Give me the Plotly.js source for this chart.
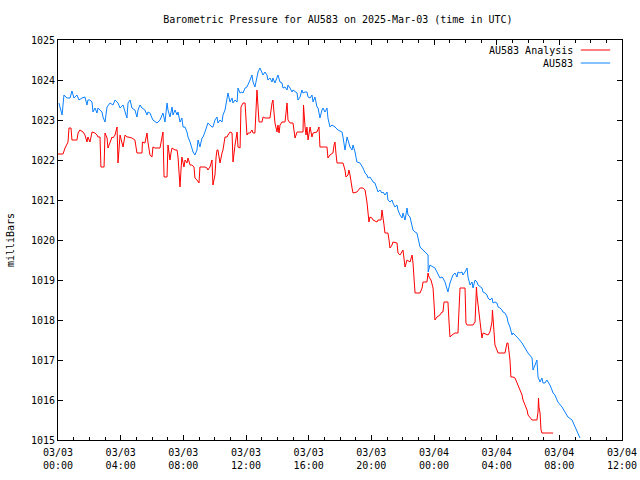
<!DOCTYPE html>
<html>
<head>
<meta charset="utf-8">
<script src="https://cdn.plot.ly/plotly-3.0.1.min.js"></script>
<style>html,body{margin:0;padding:0;background:#fff}#chart{width:640px;height:480px}</style>
</head>
<body>
<div id="chart"></div>
<script>
// Hours since 2025-03-03 00:00 UTC, and pressure in millibars
const blueHours = [0.06,0.26,0.38,0.57,0.77,0.89,1.02,1.21,1.34,1.53,1.72,1.85,1.91,2.04,2.17,2.23,2.36,2.49,2.55,2.81,2.87,3.00,3.13,3.32,3.51,3.64,3.83,3.96,4.15,4.28,4.40,4.47,4.60,4.72,4.91,5.04,5.11,5.23,5.36,5.55,5.68,5.74,5.87,6.00,6.06,6.32,6.51,6.70,6.83,6.96,7.02,7.15,7.28,7.34,7.47,7.60,7.66,7.79,7.91,7.98,8.11,8.23,8.30,8.43,8.55,8.62,8.74,8.87,8.94,9.06,9.19,9.26,9.38,9.51,9.57,9.83,9.89,10.02,10.15,10.21,10.34,10.47,10.53,10.66,10.79,10.85,10.98,11.11,11.17,11.30,11.43,11.49,11.62,11.74,11.81,11.94,12.06,12.13,12.26,12.38,12.45,12.57,12.70,12.77,12.89,13.02,13.09,13.21,13.34,13.40,13.53,13.66,13.72,13.85,13.98,14.04,14.17,14.30,14.36,14.49,14.62,14.68,14.81,14.94,15.00,15.13,15.26,15.32,15.45,15.57,15.64,15.77,15.89,15.96,16.09,16.21,16.28,16.40,16.53,16.60,16.72,16.85,16.91,17.04,17.17,17.23,17.36,17.49,17.68,17.87,18.13,18.19,18.32,18.45,18.51,18.64,18.77,18.83,18.96,19.08,19.28,19.47,19.60,19.72,19.79,19.91,20.04,20.11,20.23,20.36,20.43,20.55,20.68,20.74,20.87,21.00,21.06,21.19,21.32,21.38,21.51,21.64,21.70,21.83,21.96,22.02,22.15,22.28,22.34,22.47,22.60,22.66,22.79,22.91,22.98,23.11,23.30,23.62,23.63,23.74,23.94,24.06,24.19,24.26,24.38,24.51,24.57,24.70,24.83,24.89,25.02,25.15,25.21,25.34,25.47,25.53,25.66,25.79,25.85,25.98,26.11,26.17,26.30,26.43,26.49,26.62,26.74,26.81,26.94,27.06,27.13,27.26,27.38,27.45,27.57,27.70,27.77,27.89,28.02,28.09,28.21,28.34,28.40,28.53,28.66,28.72,28.85,28.98,29.04,29.17,29.36,29.62,29.81,30.00,30.26,30.32,30.45,30.57,30.64,30.77,30.89,30.96,31.08,31.21,31.28,31.40,31.53,31.60,31.72,31.91,32.17,32.36,32.55,32.81,33.00,33.19,33.32];
const bluePressure = [1023.425,1023.125,1023.625,1023.55,1023.55,1023.725,1023.55,1023.625,1023.5,1023.55,1023.575,1023.375,1023.5,1023.5,1023.45,1023.2,1023.3,1023.175,1023.3,1023.2,1023.075,1022.95,1023.325,1023.425,1023.375,1023.5,1023.425,1023.3,1023.375,1023.175,1023.05,1023.425,1023.5,1023.3,1023.25,1023.075,1023.25,1023.375,1023.3,1023.25,1023.125,1023.2,1023.175,1023.05,1023.0,1022.925,1023.0,1023.175,1022.95,1023.425,1023.25,1023.075,1023.325,1023.125,1023.25,1023.125,1023.2,1022.95,1023.05,1022.825,1022.825,1022.7,1022.575,1022.45,1022.3,1022.2,1022.125,1022.25,1022.5,1022.325,1022.55,1022.575,1022.7,1022.825,1022.925,1022.825,1022.825,1023.0,1023.075,1022.925,1023.0,1022.95,1023.125,1023.25,1023.5,1023.675,1023.45,1023.55,1023.425,1023.5,1023.45,1023.8,1023.675,1023.7,1023.675,1023.8,1023.825,1023.875,1024.0,1024.125,1023.95,1023.825,1024.125,1024.2,1024.3,1024.2,1024.125,1024.2,1024.125,1024.0,1024.05,1023.95,1024.05,1023.925,1024.075,1024.125,1023.95,1023.925,1023.8,1023.825,1023.75,1023.875,1023.8,1023.7,1023.75,1023.7,1023.675,1023.5,1023.575,1023.75,1023.675,1023.7,1023.7,1023.575,1023.55,1023.625,1023.45,1023.575,1023.325,1023.3,1023.05,1023.25,1023.3,1023.2,1023.3,1023.05,1022.825,1022.875,1022.825,1022.75,1022.7,1022.575,1022.25,1022.575,1022.5,1022.325,1022.25,1022.375,1022.2,1021.95,1021.925,1021.8,1021.675,1021.625,1021.55,1021.575,1021.5,1021.45,1021.425,1021.25,1021.2,1021.25,1021.175,1021.2,1021.125,1021.2,1021.0,1020.95,1021.0,1020.925,1020.825,1020.875,1020.75,1020.625,1020.55,1020.675,1020.5,1020.8,1020.625,1020.575,1020.325,1020.25,1020.2,1020.175,1020.05,1019.825,1019.75,1019.625,1019.2,1019.375,1019.325,1019.3,1019.2,1019.125,1019.05,1019.075,1019.05,1018.95,1018.8,1018.7,1018.925,1019.05,1019.125,1019.175,1019.075,1019.2,1019.175,1019.2,1019.125,1019.2,1019.3,1019.075,1018.875,1018.95,1018.8,1019.0,1018.95,1018.875,1018.825,1018.8,1018.7,1018.675,1018.625,1018.55,1018.5,1018.55,1018.425,1018.45,1018.425,1018.325,1018.3,1018.25,1018.2,1018.175,1018.075,1017.95,1017.825,1017.625,1017.675,1017.625,1017.55,1017.425,1017.3,1017.175,1017.05,1016.75,1016.875,1017.0,1016.575,1016.45,1016.55,1016.425,1016.425,1016.5,1016.45,1016.375,1016.25,1016.175,1016.125,1015.95,1015.825,1015.7,1015.575,1015.5,1015.325,1015.125,1015.05];

const redHours = [0.00,0.32,0.45,0.57,0.64,0.70,0.83,0.89,1.21,1.28,1.40,1.60,1.72,1.85,1.91,2.04,2.17,2.36,2.49,2.55,2.68,2.74,2.94,3.00,3.13,3.19,3.32,3.45,3.51,3.64,3.77,3.83,3.96,4.09,4.15,4.28,4.40,4.47,4.72,4.91,5.04,5.36,5.39,5.55,5.68,5.74,5.87,6.00,6.06,6.19,6.51,6.70,6.77,6.96,7.02,7.09,7.15,7.21,7.28,7.47,7.60,7.66,7.79,7.85,7.91,8.04,8.11,8.23,8.30,8.43,8.55,8.68,8.74,8.87,8.94,9.00,9.06,9.38,9.51,9.57,9.70,9.83,9.89,10.02,10.09,10.15,10.21,10.34,10.47,10.53,10.66,10.79,10.85,10.98,11.11,11.17,11.30,11.43,11.49,11.62,11.68,11.81,11.94,12.06,12.13,12.26,12.38,12.45,12.57,12.70,12.77,12.83,13.02,13.09,13.21,13.53,13.66,13.72,13.79,13.85,13.98,14.04,14.11,14.17,14.30,14.49,14.62,14.68,14.81,15.00,15.13,15.26,15.64,15.67,15.77,15.83,15.89,15.96,16.09,16.21,16.28,16.53,16.66,16.72,17.17,17.23,17.36,17.55,17.62,17.68,17.74,17.81,18.19,18.32,18.38,18.51,18.57,18.64,18.77,18.83,19.08,19.28,19.47,19.60,19.72,19.79,19.85,19.91,20.04,20.11,20.36,20.43,20.62,20.68,20.74,20.81,20.87,21.06,21.13,21.19,21.32,21.38,21.64,21.70,21.83,21.96,22.02,22.15,22.28,22.47,22.60,22.66,22.72,22.79,23.11,23.24,23.30,23.55,23.62,23.68,23.81,23.87,23.94,24.00,24.06,24.19,24.38,24.51,24.57,24.64,24.89,24.96,25.02,25.15,25.34,25.53,25.60,25.66,25.98,26.04,26.11,26.49,26.62,26.71,26.74,26.81,26.94,27.06,27.13,27.45,27.57,27.70,27.73,27.77,27.83,27.89,28.02,28.09,28.53,28.66,28.72,28.85,28.91,29.04,29.17,29.30,29.36,29.49,29.62,29.68,29.81,29.94,30.00,30.13,30.26,30.57,30.64,30.67,30.70,30.77,30.83,30.89,31.60];
const redPressure = [1022.15,1022.15,1022.3,1022.375,1022.45,1022.8,1022.8,1022.5,1022.5,1022.675,1022.75,1022.7,1022.625,1022.45,1022.575,1022.45,1022.7,1022.675,1022.625,1022.575,1022.575,1021.825,1021.825,1022.675,1022.55,1022.3,1022.45,1022.575,1022.55,1022.625,1022.825,1021.925,1022.625,1022.45,1022.325,1022.625,1022.575,1022.575,1022.55,1022.5,1022.175,1022.175,1022.45,1022.425,1022.675,1022.45,1022.125,1022.075,1022.325,1022.3,1022.3,1022.7,1021.575,1021.575,1022.375,1022.175,1022.0,1022.175,1022.3,1022.25,1022.25,1022.075,1021.325,1021.75,1022.075,1021.825,1022.0,1021.925,1022.05,1021.875,1021.875,1021.825,1021.55,1021.5,1021.45,1021.425,1021.825,1021.825,1021.8,1021.75,1021.825,1022.0,1021.375,1021.625,1022.075,1022.25,1022.25,1021.925,1022.175,1022.25,1022.575,1022.575,1022.625,1022.7,1022.675,1021.95,1022.375,1022.7,1022.325,1022.3,1023.325,1023.425,1023.425,1022.625,1022.675,1022.675,1022.75,1022.675,1022.675,1023.75,1023.325,1022.95,1022.95,1023.075,1023.05,1023.05,1023.425,1023.5,1023.175,1022.925,1022.7,1022.875,1022.675,1022.875,1022.95,1022.95,1023.425,1023.0,1022.925,1022.925,1022.55,1022.7,1022.7,1023.375,1022.825,1022.625,1022.825,1022.5,1022.825,1022.575,1022.675,1022.7,1022.825,1022.325,1022.325,1022.05,1022.125,1022.175,1022.375,1022.45,1022.175,1021.925,1021.925,1021.75,1021.575,1021.625,1021.75,1021.625,1021.3,1021.175,1021.2,1021.3,1021.3,1021.25,1020.95,1020.625,1020.45,1020.575,1020.55,1020.5,1020.45,1020.5,1020.5,1020.75,1020.5,1020.375,1020.175,1020.175,1020.0,1019.8,1019.875,1019.95,1019.925,1019.675,1019.625,1019.7,1019.75,1019.325,1019.5,1019.45,1019.625,1019.425,1018.925,1018.675,1018.675,1018.8,1018.95,1018.95,1019.175,1019.075,1019.0,1018.925,1018.8,1018.425,1018.0,1018.075,1018.125,1018.2,1018.2,1018.45,1018.45,1017.95,1017.575,1017.625,1017.675,1017.675,1018.375,1018.8,1018.8,1017.925,1017.875,1017.875,1017.95,1018.825,1018.625,1018.375,1018.05,1017.55,1017.675,1017.625,1017.7,1017.95,1018.25,1018.075,1017.675,1017.375,1017.25,1017.175,1017.175,1017.425,1017.425,1017.0,1016.575,1016.575,1016.55,1016.425,1016.375,1016.25,1016.125,1016.0,1015.875,1015.75,1015.625,1015.55,1015.5,1015.5,1015.7,1016.05,1015.825,1015.675,1015.25,1015.175,1015.175];

const seriesNames = ['AU583 Analysis', 'AU583'];
const titleText = 'Barometric Pressure for AU583 on 2025-Mar-03 (time in UTC)';
const yTitle = 'milliBars';
const startTime = Date.UTC(2025, 2, 3, 0, 0, 0);

function toDates(hours) {
  return hours.map(h => {
    const d = new Date(startTime + Math.round(h * 3600000));
    return d.toISOString().replace('T', ' ').slice(0, 19);
  });
}

const font = {family: '"DejaVu Sans Mono", "Liberation Mono", monospace', size: 10, color: '#000'};
const xfont = {family: '"DejaVu Sans Mono", "Liberation Mono", monospace', size: 10, color: '#000', lineposition: 'none'};
const RED = '#ff0000';
const BLUE = '#0a80ff';

const traces = [
  {x: toDates(redHours), y: redPressure, type: 'scatter', mode: 'lines', name: seriesNames[0],
   line: {color: RED, width: 1}, showlegend: false},
  {x: toDates(blueHours), y: bluePressure, type: 'scatter', mode: 'lines', name: seriesNames[1],
   line: {color: BLUE, width: 1}, showlegend: false}
];

const layout = {
  width: 640, height: 480,
  margin: {l: 58, r: 18, t: 40, b: 40, pad: 0},
  paper_bgcolor: '#fff', plot_bgcolor: '#fff',
  font: font,
  title: {text: titleText, font: font, x: 0.528, xanchor: 'center', y: 0.96, yanchor: 'middle'},
  xaxis: {
    type: 'date',
    range: ['2025-03-03 00:00:00', '2025-03-04 12:00:00'],
    tick0: '2025-03-03 00:00:00', dtick: 4 * 3600000,
    tickformat: '%m/%d<br>%H:%M',
    ticks: 'inside', ticklen: 5, tickcolor: '#000', tickwidth: 1,
    ticklabelstandoff: 3,
    minor: {dtick: 3600000, ticks: 'inside', ticklen: 3, tickcolor: '#000', tickwidth: 1},
    showline: true, linecolor: '#000', linewidth: 1, mirror: 'ticks',
    showgrid: false, zeroline: false, fixedrange: true,
    tickfont: font, automargin: false
  },
  yaxis: {
    range: [1015, 1025], dtick: 1, tick0: 1015,
    ticks: 'inside', ticklen: 5, tickcolor: '#000', tickwidth: 1,
    showline: true, linecolor: '#000', linewidth: 1, mirror: 'ticks',
    showgrid: false, zeroline: false, fixedrange: true,
    tickfont: font, automargin: false,
    title: {text: yTitle, font: font, standoff: 14}
  },
  annotations: [
    {xref: 'paper', yref: 'paper', x: 0.9167, y: 0.975, text: seriesNames[0], showarrow: false,
     xanchor: 'right', yanchor: 'middle', font: font},
    {xref: 'paper', yref: 'paper', x: 0.9167, y: 0.9425, text: seriesNames[1], showarrow: false,
     xanchor: 'right', yanchor: 'middle', font: font}
  ],
  shapes: [
    {type: 'line', xref: 'paper', yref: 'paper', x0: 0.927, x1: 0.979, y0: 0.975, y1: 0.975,
     line: {color: RED, width: 1}},
    {type: 'line', xref: 'paper', yref: 'paper', x0: 0.927, x1: 0.979, y0: 0.9425, y1: 0.9425,
     line: {color: BLUE, width: 1}}
  ]
};

Plotly.newPlot('chart', traces, layout, {displayModeBar: false, staticPlot: true});
</script>
</body>
</html>
